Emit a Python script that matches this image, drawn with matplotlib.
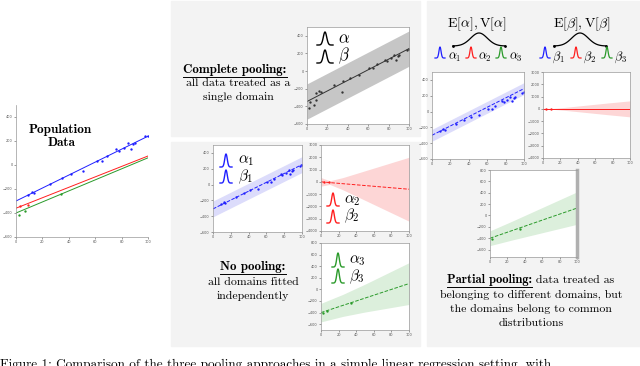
import numpy as np
import matplotlib
matplotlib.use('Agg')
import matplotlib.pyplot as plt
from matplotlib.patches import Rectangle

plt.rcParams['mathtext.fontset'] = 'cm'

W, H = 640, 366

# population data
blue_x = [9, 12, 14, 26, 35, 42, 51, 61, 65, 69, 76, 78, 82, 85, 87, 89, 90, 98, 100]
blue_y = [-250, -225, -235, -160, -110, -75, -50, 35, 30, 75, 130, 115, 145, 185, 130, 175, 180, 240, 245]
red_x = [3, 9]
red_y = [-345, -330]
green_x = [2, 7, 34]
green_y = [-414, -380, -242]

# fitted lines: intercept, slope
pop_fit_blue = [-300, 5.4]
pop_fit_red = [-360, 4.35]
pop_fit_green = [-400, 4.6]
complete_fit = [-345, 6.0]
np_fit_blue = [-308, 5.6]
np_fit_red = [0, -6]
np_fit_green = [-400, 5.0]
pp_fit_blue = [-300, 5.9]
pp_fit_red = [0, 0]
pp_fit_green = [-400, 5.3]

# uncertainty band half widths
band_x2 = [0, 100]
complete_band = [200, 200]
np_band_blue = [100, 100]
pp_band_blue = [75, 75]
band_x_red = [0, 10, 25, 50, 75, 100]
np_band_red = [350, 150, 500, 1200, 1900, 2600]
pp_band_red = [60, 30, 120, 300, 480, 650]
band_x_green = [0, 25, 50, 75, 100]
np_band_green = [160, 190, 240, 300, 360]
pp_band_green = [130, 165, 205, 245, 285]

xticks = [0, 20, 40, 60, 80, 100]
yticks_std = [400, 200, 0, -200, -400, -600]
yticks_red = [3000, 2000, 1000, 0, -1000, -2000, -3000, -4000]
yticks_green = [800, 600, 400, 200, 0, -200, -400, -600]

BLUE, RED, GREEN = '#1f1fff', '#ff1f1f', '#2a9a2a'

fig = plt.figure(figsize=(6.4, 3.66), dpi=100)


def add_px_axes(x, y, w, h):
    ax = fig.add_axes([x / W, 1 - (y + h) / H, w / W, h / H])
    ax.set_xlim(0, 100)
    ax.set_xticks(xticks)
    ax.tick_params(labelsize=2.5, length=1.5, width=0.4, pad=1, colors='#555555')
    for s in ax.spines.values():
        s.set_color('#999999')
        s.set_linewidth(0.5)
    return ax


def draw_fit(ax, fit, bx, bw, color, band_color, xs, ys, ls='-'):
    bx = np.array(bx)
    c = fit[0] + fit[1] * bx
    if bw is not None:
        ax.fill_between(bx, c - np.array(bw), c + np.array(bw), color=band_color, lw=0)
    xl = np.array([0, 100])
    ax.plot(xl, fit[0] + fit[1] * xl, color=color, lw=0.7, ls=ls)
    ax.plot(xs, ys, 'o', ms=1.7, color=color, mew=0)


# grey panels
for (x, y, w, h) in [(171, 1, 249, 135), (171, 142, 249, 204), (427, 1, 213, 345)]:
    fig.patches.append(Rectangle((x / W, 1 - (y + h) / H), w / W, h / H,
                                 transform=fig.transFigure, color='#f3f3f3', zorder=-5))

# population data
ax = add_px_axes(16, 105, 132, 132)
ax.set_ylim(-600, 500)
ax.set_yticks(yticks_std)
ax.spines['top'].set_visible(False)
ax.spines['right'].set_visible(False)
draw_fit(ax, pop_fit_blue, band_x2, None, BLUE, None, blue_x, blue_y)
draw_fit(ax, pop_fit_red, band_x2, None, RED, None, red_x, red_y)
draw_fit(ax, pop_fit_green, band_x2, None, GREEN, None, green_x, green_y)

# complete pooling
ax = add_px_axes(307, 27, 102, 97)
ax.set_ylim(-600, 500)
ax.set_yticks(yticks_std)
draw_fit(ax, complete_fit, band_x2, complete_band, '#333333', '#c6c6c6',
         blue_x + red_x + green_x, blue_y + red_y + green_y)

# no pooling
ax = add_px_axes(213, 145, 89, 87)
ax.set_ylim(-600, 500)
ax.set_yticks(yticks_std)
draw_fit(ax, np_fit_blue, band_x2, np_band_blue, BLUE, '#dcdcfb', blue_x, blue_y, ls='--')

ax = add_px_axes(321, 145, 88, 86)
ax.set_ylim(-4000, 3000)
ax.set_yticks(yticks_red)
draw_fit(ax, np_fit_red, band_x_red, np_band_red, RED, '#fdd6d6', red_x, [0, 0], ls='--')

ax = add_px_axes(321, 243, 88, 87)
ax.set_ylim(-700, 800)
ax.set_yticks(yticks_green)
draw_fit(ax, np_fit_green, band_x_green, np_band_green, GREEN, '#dcefdc', green_x, green_y, ls='--')

# partial pooling
ax = add_px_axes(432, 72, 92, 87)
ax.set_ylim(-600, 500)
ax.set_yticks(yticks_std)
draw_fit(ax, pp_fit_blue, band_x2, pp_band_blue, BLUE, '#dcdcfb', blue_x, blue_y, ls='--')

ax = add_px_axes(543, 72, 87, 86)
ax.set_ylim(-4000, 3000)
ax.set_yticks(yticks_red)
draw_fit(ax, pp_fit_red, band_x_red, pp_band_red, RED, '#fdd6d6', red_x, [0, 0])

ax = add_px_axes(490, 170, 87, 87)
ax.set_ylim(-730, 800)
ax.set_yticks(yticks_green)
draw_fit(ax, pp_fit_green, band_x_green, pp_band_green, GREEN, '#dcefdc', green_x[::2], green_y[::2], ls='--')
ax.spines['right'].set_linewidth(2.5)
ax.spines['right'].set_color('#b0b0b0')

# overlay for text and little distribution glyphs
fg = fig.add_axes([0, 0, 1, 1], zorder=10)
fg.set_xlim(0, W)
fg.set_ylim(H, 0)
fg.axis('off')
fg.patch.set_alpha(0)


def bell(cx, base, w, h, color, lw=1.0, sig=0.3, dots=False):
    t = np.linspace(-1, 1, 80)
    fg.plot(cx + t * w / 2, base - np.exp(-(t / sig) ** 2) * h, color=color, lw=lw)
    if dots:
        fg.plot([cx - w / 2, cx + w / 2], [base, base], 'o', ms=1.0, color=color)


def label(x, y, s, size=11):
    fg.text(x, y, s, fontsize=size, ha='left', va='center')


REG = 'cmr10'
BOLD = 'cmb10'

fg.text(60, 130, 'Population', fontsize=9.5, family=BOLD, ha='center', va='center')
fg.text(62, 143, 'Data', fontsize=9.5, family=BOLD, ha='center', va='center')

# complete pooling labels
bell(325, 45, 16, 13, 'black')
label(338, 38, r'$\alpha$', 12)
bell(325, 63, 16, 13, 'black')
label(338, 56, r'$\beta$', 12)

# no pooling labels
bell(226, 167, 12, 13, BLUE)
label(238, 161, r'$\alpha_1$')
bell(226, 183, 12, 13, BLUE)
label(238, 177, r'$\beta_1$')
bell(333, 206, 12, 13, RED)
label(344, 200, r'$\alpha_2$')
bell(333, 223, 12, 13, RED)
label(344, 216, r'$\beta_2$')
bell(338, 267, 12, 14, GREEN)
label(349, 260, r'$\alpha_3$')
bell(338, 283, 12, 14, GREEN)
label(349, 277, r'$\beta_3$')

# partial pooling hyper-priors
fg.text(477, 24, r'$\mathrm{E}[\alpha],\mathrm{V}[\alpha]$', fontsize=10, ha='center', va='center')
fg.text(582, 24, r'$\mathrm{E}[\beta],\mathrm{V}[\beta]$', fontsize=10, ha='center', va='center')
bell(479, 46, 52, 13, 'black', lw=0.9, sig=0.45, dots=True)
bell(580, 46, 52, 13, 'black', lw=0.9, sig=0.45, dots=True)
for cx, col, tx, s in [(440, BLUE, 448, r'$\alpha_1$'), (471, RED, 478, r'$\alpha_2$'),
                       (501, GREEN, 509, r'$\alpha_3$'), (545, BLUE, 552, r'$\beta_1$'),
                       (576, RED, 583, r'$\beta_2$'), (607, GREEN, 614, r'$\beta_3$')]:
    bell(cx, 58, 10, 11, col, lw=0.9)
    label(tx, 57, s, 9)

# descriptive texts
blocks = []
t = fg.text(235, 70, 'Complete pooling:', fontsize=9.3, family=BOLD, ha='center', va='center')
blocks.append(t)
fg.text(238, 83, 'all data treated as a', fontsize=8.5, family=REG, ha='center', va='center')
fg.text(238, 97, 'single domain', fontsize=8.5, family=REG, ha='center', va='center')
t = fg.text(253, 267, 'No pooling:', fontsize=9.3, family=BOLD, ha='center', va='center')
blocks.append(t)
fg.text(253, 282, 'all domains fitted', fontsize=8.5, family=REG, ha='center', va='center')
fg.text(253, 296, 'independently', fontsize=8.5, family=REG, ha='center', va='center')

pb = fg.text(0, 280, 'Partial pooling:', fontsize=9.0, family=BOLD, ha='left', va='center')
pr = fg.text(0, 280, ' data treated as', fontsize=8.5, family=REG, ha='left', va='center')
for i, s in enumerate(['belonging to different domains, but', 'the domains belong to common', 'distributions']):
    fg.text(531, 295 + 14 * i, s, fontsize=8.5, family=REG, ha='center', va='center')

fg.text(0, 359, 'Figure 1: Comparison of the three pooling approaches in a simple linear regression setting, with',
        fontsize=9.5, family=REG, ha='left', va='top')

fig.canvas.draw()
r = fig.canvas.get_renderer()
wb = pb.get_window_extent(r).width
wr = pr.get_window_extent(r).width
x0 = 531 - (wb + wr) / 2
pb.set_x(x0)
pr.set_x(x0 + wb)
blocks.append(pb)
fig.canvas.draw()
for t in blocks:
    bb = t.get_window_extent(r)
    yy = H - bb.y0 + 1.2
    fg.plot([bb.x0, bb.x1], [yy, yy], color='black', lw=0.7)

fig.savefig('out.png', dpi=100)
